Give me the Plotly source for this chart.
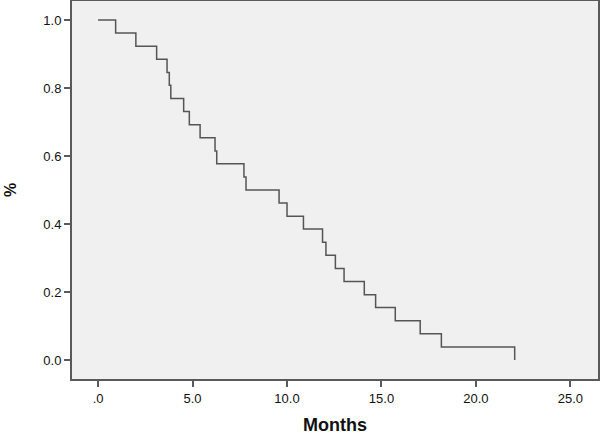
import plotly.graph_objects as go

# Kaplan-Meier step curve
event_months = [0.93, 2.0, 3.1, 3.65, 3.77, 3.85, 4.53, 4.83, 5.4, 6.19, 6.28, 7.72, 7.83,
                9.58, 10.0, 10.87, 11.88, 12.06, 12.56, 13.02, 14.09, 14.69, 15.73, 17.05,
                18.17, 22.05]
survival = [0.962, 0.923, 0.885, 0.846, 0.808, 0.769, 0.731, 0.692, 0.654, 0.615, 0.577,
            0.538, 0.500, 0.462, 0.423, 0.385, 0.346, 0.308, 0.269, 0.231, 0.192, 0.154,
            0.115, 0.077, 0.038, 0.0]
start_month = [0.0]
start_survival = [1.0]

x_tick_vals = [0, 5, 10, 15, 20, 25]
x_tick_text = [".0", "5.0", "10.0", "15.0", "20.0", "25.0"]
y_tick_vals = [0, 0.2, 0.4, 0.6, 0.8, 1.0]
y_tick_text = ["0.0", "0.2", "0.4", "0.6", "0.8", "1.0"]

FONT = "Liberation Sans, Arial, sans-serif"

fig = go.Figure()
fig.add_trace(go.Scatter(
    x=start_month + event_months,
    y=start_survival + survival,
    mode="lines",
    line=dict(shape="hv", color="#555555", width=1.5),
    hoverinfo="skip",
    showlegend=False,
))

axis_common = dict(
    showline=True, linecolor="#5a5a5a", linewidth=2, mirror=True,
    showgrid=False, zeroline=False, automargin=False,
    ticks="outside", ticklen=6, tickwidth=2, tickcolor="#5a5a5a",
    tickfont=dict(family=FONT, size=13, color="#111111"),
)

fig.update_layout(
    width=600, height=434,
    margin=dict(l=72, r=2, t=1, b=55),
    paper_bgcolor="white",
    plot_bgcolor="#f0f0f0",
    xaxis=dict(range=[-1.38, 26.46], tickvals=x_tick_vals, ticktext=x_tick_text, **axis_common),
    yaxis=dict(range=[-0.056, 1.056], tickvals=y_tick_vals, ticktext=y_tick_text, **axis_common),
    annotations=[
        dict(text="<b>Months</b>", xref="paper", yref="paper", x=0.5, y=-0.122,
             xanchor="center", yanchor="middle", showarrow=False,
             font=dict(family=FONT, size=18, color="#111111")),
        dict(text="<b>%</b>", xref="paper", yref="paper", x=-0.118, y=0.5,
             xanchor="center", yanchor="middle", showarrow=False, textangle=-90,
             font=dict(family=FONT, size=16, color="#111111")),
    ],
)

fig.write_html("out.html", config={"displayModeBar": False},
               post_script="document.body.style.margin='0';")
